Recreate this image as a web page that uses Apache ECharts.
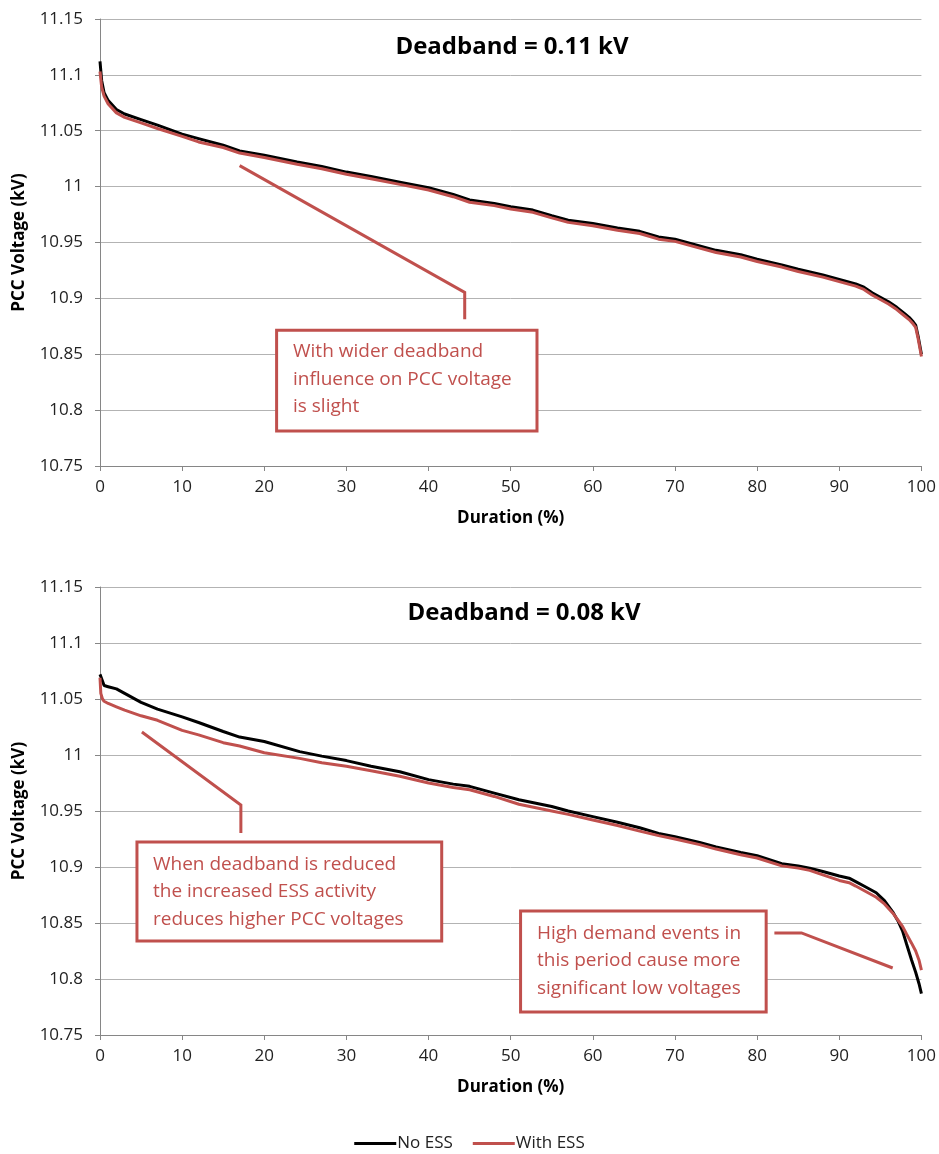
<!DOCTYPE html>
<html>
<head>
<meta charset="utf-8">
<script src="https://cdn.jsdelivr.net/npm/echarts@6/dist/echarts.min.js"></script>
<style>
html,body{margin:0;padding:0;background:#fff;}
#chart{width:939px;height:1154px;}
</style>
</head>
<body>
<div id="chart"></div>
<script>
// ---------- DATA ----------
const titles = ['Deadband = 0.11 kV', 'Deadband = 0.08 kV'];
const seriesNames = ['No ESS', 'With ESS'];
const yTicks = [10.75, 10.8, 10.85, 10.9, 10.95, 11, 11.05, 11.1, 11.15];
const xTicks = [0, 10, 20, 30, 40, 50, 60, 70, 80, 90, 100];

// Top chart (deadband 0.11 kV)
const durTop = [0, 0.2, 0.5, 1, 2, 3, 5, 7, 10, 12, 15, 17, 20, 24, 27, 30, 33, 36.5, 40, 43, 45, 48, 50, 52.7, 55, 57, 60, 63, 65.7, 68, 70, 73, 75, 78, 80, 83, 85, 88, 90, 92, 93, 94, 95, 96, 97, 98, 98.5, 99, 99.3, 99.6, 99.8, 100];
const noEssTop = [11.112, 11.095, 11.084, 11.077, 11.069, 11.065, 11.060, 11.055, 11.047, 11.043, 11.037, 11.032, 11.028, 11.022, 11.018, 11.013, 11.009, 11.004, 10.999, 10.993, 10.988, 10.985, 10.982, 10.979, 10.974, 10.970, 10.967, 10.963, 10.960, 10.955, 10.953, 10.947, 10.943, 10.939, 10.935, 10.930, 10.926, 10.921, 10.917, 10.913, 10.910, 10.905, 10.901, 10.897, 10.892, 10.886, 10.883, 10.879, 10.876, 10.866, 10.858, 10.850];
const withEssTop = [11.103, 11.089, 11.081, 11.074, 11.066, 11.062, 11.057, 11.052, 11.045, 11.040, 11.035, 11.030, 11.026, 11.020, 11.016, 11.011, 11.007, 11.002, 10.997, 10.991, 10.986, 10.983, 10.980, 10.977, 10.972, 10.968, 10.965, 10.961, 10.958, 10.953, 10.951, 10.945, 10.941, 10.937, 10.933, 10.928, 10.924, 10.919, 10.915, 10.911, 10.908, 10.903, 10.899, 10.895, 10.890, 10.884, 10.881, 10.877, 10.874, 10.864, 10.856, 10.848];

// Bottom chart (deadband 0.08 kV)
const durBot = [0, 0.1, 0.3, 0.5, 1, 2, 3, 5, 7, 10, 12, 15, 17, 20, 24.3, 27, 30, 33, 36.5, 40, 43, 45, 48, 51, 55, 57, 60, 63, 65.7, 68, 70, 73, 75, 78, 80, 83, 85, 86.4, 88, 90, 91.2, 92, 93, 94.5, 95.5, 96.5, 97.2, 97.7, 98.2, 98.8, 99.3, 99.7, 100];
const noEssBot = [11.072, 11.070, 11.066, 11.062, 11.061, 11.059, 11.055, 11.047, 11.041, 11.034, 11.029, 11.021, 11.016, 11.012, 11.003, 10.999, 10.995, 10.990, 10.985, 10.978, 10.974, 10.972, 10.966, 10.960, 10.954, 10.950, 10.945, 10.940, 10.935, 10.930, 10.927, 10.922, 10.918, 10.913, 10.910, 10.903, 10.901, 10.899, 10.896, 10.892, 10.890, 10.887, 10.883, 10.877, 10.870, 10.860, 10.851, 10.843, 10.831, 10.817, 10.806, 10.796, 10.787];
const withEssBot = [11.069, 11.055, 11.050, 11.048, 11.046, 11.043, 11.040, 11.035, 11.031, 11.022, 11.018, 11.011, 11.008, 11.002, 10.997, 10.993, 10.990, 10.986, 10.981, 10.975, 10.971, 10.969, 10.963, 10.956, 10.950, 10.947, 10.942, 10.937, 10.932, 10.928, 10.925, 10.920, 10.916, 10.911, 10.908, 10.901, 10.899, 10.897, 10.893, 10.888, 10.886, 10.883, 10.879, 10.873, 10.867, 10.859, 10.852, 10.847, 10.840, 10.832, 10.825, 10.817, 10.808];

// Annotations (data coordinates: [duration %, kV]); textAt = left end of the middle text line
const annotations = [
  { grid: 0, box: [[21.5, 10.8714], [53.2, 10.7813]], textAt: [23.5, 10.8277],
    text: 'With wider deadband\ninfluence on PCC voltage\nis slight',
    leader: [[17.0, 11.0188], [44.4, 10.9054], [44.4, 10.8813]] },
  { grid: 1, box: [[4.5, 10.9223], [41.6, 10.8339]], textAt: [6.45, 10.878],
    text: 'When deadband is reduced\nthe increased ESS activity\nreduces higher PCC voltages',
    leader: [[5.1, 11.0205], [17.15, 10.9554], [17.15, 10.9304]] },
  { grid: 1, box: [[51.2, 10.8607], [81.1, 10.7705]], textAt: [53.2, 10.816],
    text: 'High demand events in\nthis period cause more\nsignificant low voltages',
    leader: [[82.1, 10.8411], [85.4, 10.8411], [96.5, 10.8098]] }
];

// ---------- CHART ----------
const RED = '#c0504d';
const FONT = '"Open Sans", "Noto Sans", sans-serif';
const chart = echarts.init(document.getElementById('chart'), null, { renderer: 'canvas' });

function pair(xs, ys) { return xs.map((x, i) => [x, ys[i]]); }

function xAxisCfg(gridIndex) {
  return {
    type: 'value', gridIndex, min: 0, max: 100, interval: 10,
    name: 'Duration (%)', nameLocation: 'middle', nameGap: 44,
    nameTextStyle: { fontFamily: FONT, fontWeight: 'bold', fontSize: 17, color: '#000' },
    axisLine: { show: true, lineStyle: { color: '#868686', width: 1 } },
    axisTick: { show: true, length: 5, lineStyle: { color: '#868686' } },
    axisLabel: { fontFamily: FONT, fontSize: 17, color: '#222', margin: 13 },
    splitLine: { show: false }
  };
}
function yAxisCfg(gridIndex) {
  return {
    type: 'value', gridIndex, min: 10.75, max: 11.15, interval: 0.05,
    name: 'PCC Voltage (kV)', nameLocation: 'middle', nameGap: 72,
    nameTextStyle: { fontFamily: FONT, fontWeight: 'bold', fontSize: 17, color: '#000' },
    axisLine: { show: true, lineStyle: { color: '#868686', width: 1 } },
    axisTick: { show: true, length: 5, lineStyle: { color: '#868686' } },
    axisLabel: { fontFamily: FONT, fontSize: 17, color: '#222', margin: 17,
      formatter: v => String(parseFloat(v.toFixed(2))) },
    splitLine: { show: true, lineStyle: { color: '#b3b3b3', width: 1 } }
  };
}
function lineSeries(name, xi, data, color) {
  return {
    name, type: 'line', xAxisIndex: xi, yAxisIndex: xi, data,
    showSymbol: false, symbol: 'none', animation: false,
    lineStyle: { color, width: 3 }, itemStyle: { color }, z: name === 'No ESS' ? 3 : 4
  };
}

const option = {
  animation: false,
  backgroundColor: '#fff',
  title: [
    { text: titles[0], left: 507, top: 30, textAlign: 'center',
      textStyle: { fontFamily: FONT, fontWeight: 'bold', fontSize: 24, color: '#000' } },
    { text: titles[1], left: 519, top: 596, textAlign: 'center',
      textStyle: { fontFamily: FONT, fontWeight: 'bold', fontSize: 24, color: '#000' } }
  ],
  legend: {
    data: seriesNames, top: 1130, left: 'center', icon: 'rect',
    itemWidth: 42, itemHeight: 3, itemGap: 20,
    textStyle: { fontFamily: FONT, fontSize: 17, color: '#222', padding: [0, 0, 0, -4] }
  },
  grid: [
    { left: 100, right: 17, top: 19, bottom: 688 },
    { left: 100, right: 17, top: 587, bottom: 119 }
  ],
  xAxis: [xAxisCfg(0), xAxisCfg(1)],
  yAxis: [yAxisCfg(0), yAxisCfg(1)],
  series: [
    lineSeries(seriesNames[0], 0, pair(durTop, noEssTop), '#000'),
    lineSeries(seriesNames[1], 0, pair(durTop, withEssTop), RED),
    lineSeries(seriesNames[0], 1, pair(durBot, noEssBot), '#000'),
    lineSeries(seriesNames[1], 1, pair(durBot, withEssBot), RED)
  ]
};
chart.setOption(option);

function px(gridIndex, pt) {
  return chart.convertToPixel({ xAxisIndex: gridIndex, yAxisIndex: gridIndex }, pt);
}
const graphics = [];
annotations.forEach(a => {
  const lp = a.leader.map(p => px(a.grid, p));
  graphics.push({ type: 'polyline', z: 10, shape: { points: lp },
    style: { stroke: RED, lineWidth: 3, fill: null } });
  const p1 = px(a.grid, a.box[0]), p2 = px(a.grid, a.box[1]);
  graphics.push({ type: 'rect', z: 11,
    shape: { x: p1[0], y: p1[1], width: p2[0] - p1[0], height: p2[1] - p1[1] },
    style: { fill: '#fff', stroke: RED, lineWidth: 3 } });
  const t = px(a.grid, a.textAt);
  graphics.push({ type: 'text', z: 12, x: t[0], y: t[1],
    style: { text: a.text, fill: RED, font: '19px ' + FONT, lineHeight: 27.5,
      verticalAlign: 'middle', align: 'left' } });
});
chart.setOption({ graphic: graphics });
</script>
</body>
</html>
